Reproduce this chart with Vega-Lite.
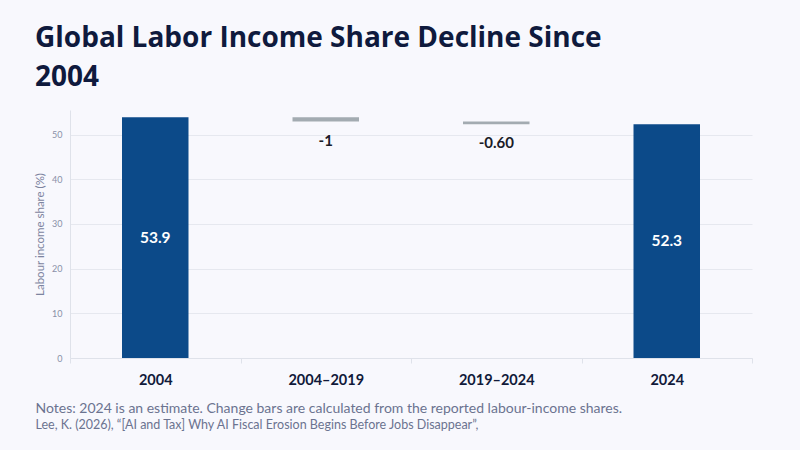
{
  "$schema": "https://vega.github.io/schema/vega-lite/v6.json",
  "width": 682,
  "height": 248,
  "autosize": {"type": "none"},
  "padding": {"left": 70, "top": 110, "right": 48, "bottom": 92},
  "background": "#f8f8fd",
  "title": {
    "text": ["Global Labor Income Share Decline Since", "2004"],
    "anchor": "start",
    "frame": "group",
    "dx": -35,
    "offset": 18,
    "font": "Open Sans",
    "fontSize": 28,
    "fontWeight": "bold",
    "color": "#0f1a3d",
    "lineHeight": 39
  },
  "data": {
    "values": [
      {"label": "2004", "start": 0, "end": 53.9, "kind": "total", "text": "53.9"},
      {"label": "2004–2019", "start": 53.9, "end": 52.9, "kind": "change", "text": "-1"},
      {"label": "2019–2024", "start": 52.9, "end": 52.3, "kind": "change", "text": "-0.60"},
      {"label": "2024", "start": 0, "end": 52.3, "kind": "total", "text": "52.3"}
    ]
  },
  "layer": [
    {
      "mark": {"type": "bar", "width": {"band": 0.39}},
      "encoding": {
        "x": {
          "field": "label",
          "type": "nominal",
          "sort": null,
          "scale": {"padding": 0},
          "axis": {
            "orient": "bottom",
            "title": "Notes: 2024 is an estimate. Change bars are calculated from the reported labour-income shares.",
            "titleAnchor": "start",
            "titleAlign": "left",
            "titleBaseline": "alphabetic",
            "titleX": -35,
            "titleY": 54,
            "titleFont": "Lato",
            "titleFontSize": 14,
            "titleFontWeight": "normal",
            "titleColor": "#6b7390",
            "labelAngle": 0,
            "labelFont": "Lato",
            "labelFontSize": 14.5,
            "labelFontWeight": "bold",
            "labelColor": "#111a3a",
            "labelPadding": 10,
            "tickBand": "extent",
            "tickSize": 5,
            "tickColor": "#dfe2ea",
            "domainColor": "#dfe2ea",
            "grid": false
          }
        },
        "y": {
          "field": "start",
          "type": "quantitative",
          "scale": {"domain": [0, 55.5], "nice": false},
          "axis": {
            "title": "Labour income share (%)",
            "titleFont": "Lato",
            "titleFontSize": 11.5,
            "titleFontWeight": "normal",
            "titleColor": "#7d849f",
            "titlePadding": 6,
            "values": [0, 10, 20, 30, 40, 50],
            "labelFont": "Lato",
            "labelFontSize": 9,
            "labelColor": "#8a90a8",
            "labelPadding": 8,
            "ticks": false,
            "domainColor": "#dfe2ea",
            "gridColor": "#e6e8ef"
          }
        },
        "y2": {"field": "end"},
        "color": {
          "field": "kind",
          "type": "nominal",
          "scale": {"domain": ["total", "change"], "range": ["#0c4a89", "#a3abb1"]},
          "legend": null
        }
      }
    },
    {
      "transform": [
        {"filter": "datum.kind === 'total'"},
        {"calculate": "datum.end / 2", "as": "mid"}
      ],
      "mark": {"type": "text", "font": "Lato", "fontSize": 15.5, "fontWeight": "bold", "color": "white", "baseline": "middle"},
      "encoding": {
        "x": {
          "field": "label",
          "type": "nominal",
          "sort": null,
          "scale": {"padding": 0},
          "axis": {
            "orient": "bottom",
            "title": "Lee, K. (2026), “[AI and Tax] Why AI Fiscal Erosion Begins Before Jobs Disappear”,",
            "titleAnchor": "start",
            "titleAlign": "left",
            "titleBaseline": "alphabetic",
            "titleX": -35,
            "titleY": 70,
            "titleFont": "Lato",
            "titleFontSize": 12.5,
            "titleFontWeight": "normal",
            "titleColor": "#6b7390",
            "labels": false,
            "ticks": false,
            "domain": false,
            "grid": false
          }
        },
        "y": {"field": "mid", "type": "quantitative"},
        "text": {"field": "text"}
      }
    },
    {
      "transform": [{"filter": "datum.kind === 'change'"}],
      "mark": {"type": "text", "font": "Lato", "fontSize": 15, "fontWeight": "bold", "color": "#1b1c28", "baseline": "middle", "dy": 19},
      "encoding": {
        "x": {"field": "label", "type": "nominal", "sort": null, "axis": null},
        "y": {"field": "end", "type": "quantitative"},
        "text": {"field": "text"}
      }
    }
  ],
  "resolve": {"axis": {"x": "independent"}},
  "config": {"view": {"stroke": null}}
}
